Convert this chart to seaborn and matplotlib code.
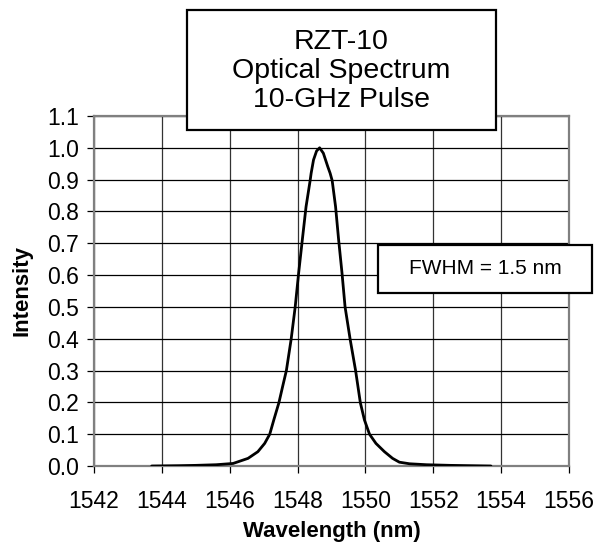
import numpy as np
import pandas as pd
import matplotlib
matplotlib.use("Agg")
import matplotlib.pyplot as plt
import matplotlib.patches as mpatches
import seaborn as sns

# Spectrum
wavelength = [1543.7, 1544.5, 1545.0, 1545.6, 1546.1, 1546.54, 1546.83, 1547.03,
              1547.18, 1547.30, 1547.45, 1547.56, 1547.67, 1547.81, 1547.93,
              1548.03, 1548.14, 1548.25, 1548.37, 1548.40, 1548.47, 1548.56,
              1548.65, 1548.76, 1548.89, 1548.96, 1549.02, 1549.12, 1549.21,
              1549.31, 1549.40, 1549.55, 1549.71, 1549.85, 1549.97, 1550.12,
              1550.31, 1550.56, 1550.80, 1551.0, 1551.3, 1551.8, 1552.5, 1553.7]
intensity = [0.0, 0.001, 0.002, 0.004, 0.008, 0.024, 0.045, 0.071,
             0.10, 0.145, 0.199, 0.25, 0.30, 0.398, 0.50,
             0.605, 0.711, 0.815, 0.897, 0.92, 0.962, 0.99,
             1.0, 0.983, 0.941, 0.92, 0.897, 0.815, 0.711,
             0.606, 0.50, 0.398, 0.30, 0.199, 0.145, 0.10,
             0.071, 0.045, 0.024, 0.012, 0.007, 0.004, 0.002, 0.0]

x_ticks = list(range(1542, 1557, 2))
y_ticks = [round(0.1 * i, 1) for i in range(12)]

title_text = "RZT-10\nOptical Spectrum\n10-GHz Pulse"
fwhm_text = "FWHM = 1.5 nm"

sns.set_style("white")
plt.rcParams['font.family'] = ['Liberation Sans', 'DejaVu Sans']
# seaborn greys the text by default; the reference is plain black
for key in ['text.color', 'axes.labelcolor', 'xtick.color', 'ytick.color']:
    plt.rcParams[key] = 'black'

df = pd.DataFrame({'Wavelength': wavelength, 'Intensity': intensity})

fig = plt.figure(figsize=(5.96, 5.42), dpi=100)
ax = fig.add_axes([94 / 596, 1 - 466 / 542, 475 / 596, 350 / 542])

sns.lineplot(data=df, x='Wavelength', y='Intensity', color='black',
             linewidth=2.0, ax=ax, zorder=3)
ax.lines[0].set_solid_joinstyle('round')

ax.set_xlim(1542, 1556)
ax.set_ylim(0, 1.1)
ax.set_xticks(x_ticks)
ax.set_yticks(y_ticks)
ax.set_yticklabels([f'{v:.1f}' for v in y_ticks])

ax.grid(True, axis='y', color='black', linewidth=0.9)
ax.grid(True, axis='x', color='#333333', linewidth=0.9)
ax.set_axisbelow(True)

for side in ['left', 'right', 'top', 'bottom']:
    ax.spines[side].set_visible(True)
    ax.spines[side].set_color('#808080')
    ax.spines[side].set_linewidth(1.6)

ax.tick_params(axis='both', direction='out', length=5, width=0.9,
               color='black', labelcolor='black', labelsize=16.5,
               left=True, bottom=True)
ax.tick_params(axis='x', pad=12)
ax.tick_params(axis='y', pad=6)

ax.set_xlabel('Wavelength (nm)', fontsize=16, fontweight='bold', labelpad=6,
              color='black')
ax.set_ylabel('Intensity', fontsize=16, fontweight='bold', labelpad=10,
              color='black')

# Title box, drawn on top of the plot area
title_box = mpatches.Rectangle((187 / 596, 1 - 130 / 542), 309 / 596, 120 / 542,
                               transform=fig.transFigure, facecolor='white',
                               edgecolor='black', linewidth=1.6, zorder=5)
fig.patches.append(title_box)
fig.text(341.5 / 596, 1 - 71 / 542, title_text, ha='center', va='center',
         fontsize=20.5, linespacing=1.15, color='black', zorder=6)

# FWHM annotation box
fwhm_box = mpatches.Rectangle((378 / 596, 1 - 293 / 542), 214 / 596, 48 / 542,
                              transform=fig.transFigure, facecolor='white',
                              edgecolor='black', linewidth=1.6, zorder=5)
fig.patches.append(fwhm_box)
fig.text(485 / 596, 1 - 269 / 542, fwhm_text, ha='center', va='center',
         fontsize=15, color='black', zorder=6)

fig.savefig('out.png', dpi=100)
